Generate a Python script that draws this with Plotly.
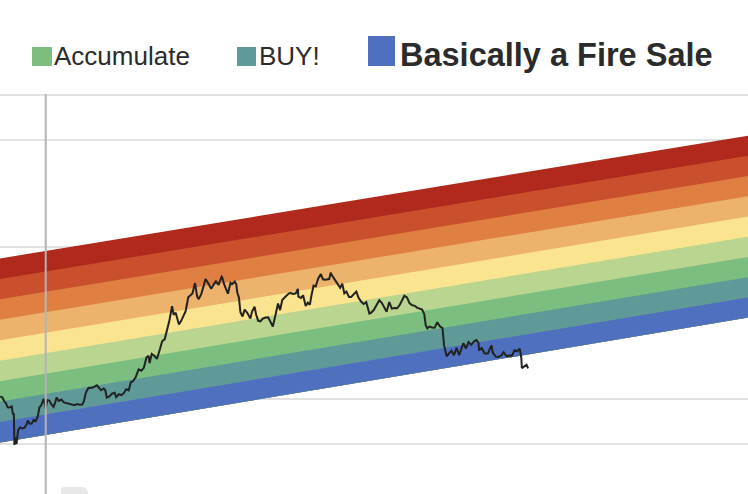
import plotly.graph_objects as go

# ---------------- data ----------------
band_names = ["Maximum Bubble Territory", "Sell. Seriously, SELL!", "FOMO intensifies",
              "Is this a bubble?", "HODL!", "Still cheap", "Accumulate", "BUY!",
              "Basically a Fire Sale"]
band_colors = ["#B0291C", "#C94F2D", "#E07F42", "#EDB36D", "#FBE48F",
               "#BAD58F", "#7CBD80", "#5F9A99", "#4E70BF"]
band_dates = ["2020-01-01", "2022-01-01", "2024-03-01"]
# band edge prices (top of band 1 ... bottom of band 9) at each band date
edges_2020 = [79000, 57900, 42520, 31170, 22890, 16790, 12310, 9040, 6630, 4866]
edges_2022 = [204000, 150100, 110200, 81030, 59500, 43760, 32180, 23640, 17390, 12760]
edges_2024 = [568400, 418900, 308500, 227300, 167100, 123100, 90670, 66750, 49180, 36220]

legend_names = ["Accumulate", "BUY!", "Basically a Fire Sale"]
legend_colors = ["#7CBD80", "#5F9A99", "#4E70BF"]

grid_values = [5000, 10000, 50000, 100000, 500000, 1000000]
halving_dates = ["2020-05-11"]

price_dates = [
    "2020-02-14", "2020-02-18", "2020-02-21", "2020-02-25", "2020-02-28", "2020-03-03", "2020-03-07",
    "2020-03-09", "2020-03-11", "2020-03-12", "2020-03-13", "2020-03-16", "2020-03-19", "2020-03-23",
    "2020-03-27", "2020-03-31", "2020-04-04", "2020-04-07", "2020-04-10", "2020-04-14", "2020-04-18",
    "2020-04-22", "2020-04-26", "2020-04-29", "2020-05-02", "2020-05-07", "2020-05-10", "2020-05-11",
    "2020-05-14", "2020-05-18", "2020-05-22", "2020-05-26", "2020-05-29", "2020-06-01", "2020-06-05",
    "2020-06-10", "2020-06-15", "2020-06-20", "2020-06-25", "2020-06-30", "2020-07-05", "2020-07-10",
    "2020-07-15", "2020-07-20", "2020-07-23", "2020-07-27", "2020-08-01", "2020-08-05", "2020-08-10",
    "2020-08-17", "2020-08-20", "2020-08-25", "2020-08-30", "2020-09-02", "2020-09-05", "2020-09-10",
    "2020-09-15", "2020-09-20", "2020-09-23", "2020-09-28", "2020-10-03", "2020-10-08", "2020-10-12",
    "2020-10-17", "2020-10-21", "2020-10-25", "2020-10-30", "2020-11-05", "2020-11-10", "2020-11-15",
    "2020-11-20", "2020-11-24", "2020-11-26", "2020-11-30", "2020-12-05", "2020-12-10", "2020-12-16",
    "2020-12-20", "2020-12-25", "2020-12-30", "2021-01-03", "2021-01-08", "2021-01-11", "2021-01-15",
    "2021-01-21", "2021-01-25", "2021-01-29", "2021-02-03", "2021-02-08", "2021-02-12", "2021-02-16",
    "2021-02-21", "2021-02-25", "2021-02-28", "2021-03-05", "2021-03-10", "2021-03-13", "2021-03-18",
    "2021-03-24", "2021-03-28", "2021-04-02", "2021-04-07", "2021-04-13", "2021-04-14", "2021-04-18",
    "2021-04-22", "2021-04-25", "2021-04-30", "2021-05-03", "2021-05-08", "2021-05-11", "2021-05-13",
    "2021-05-16", "2021-05-19", "2021-05-23", "2021-05-27", "2021-06-01", "2021-06-07", "2021-06-10",
    "2021-06-15", "2021-06-18", "2021-06-22", "2021-06-26", "2021-07-01", "2021-07-06", "2021-07-11",
    "2021-07-15", "2021-07-20", "2021-07-25", "2021-07-30", "2021-08-03", "2021-08-07", "2021-08-14",
    "2021-08-20", "2021-08-23", "2021-08-28", "2021-09-02", "2021-09-06", "2021-09-07", "2021-09-12",
    "2021-09-16", "2021-09-21", "2021-09-25", "2021-09-29", "2021-10-02", "2021-10-06", "2021-10-10",
    "2021-10-15", "2021-10-20", "2021-10-24", "2021-10-28", "2021-11-01", "2021-11-05", "2021-11-08",
    "2021-11-10", "2021-11-16", "2021-11-19", "2021-11-22", "2021-11-26", "2021-11-30", "2021-12-04",
    "2021-12-08", "2021-12-13", "2021-12-17", "2021-12-22", "2021-12-27", "2021-12-31", "2022-01-05",
    "2022-01-10", "2022-01-15", "2022-01-21", "2022-01-24", "2022-01-29", "2022-02-04", "2022-02-09",
    "2022-02-14", "2022-02-18", "2022-02-23", "2022-02-28", "2022-03-05", "2022-03-10", "2022-03-15",
    "2022-03-20", "2022-03-25", "2022-03-29", "2022-04-03", "2022-04-08", "2022-04-13", "2022-04-18",
    "2022-04-22", "2022-04-27", "2022-05-02", "2022-05-06", "2022-05-09", "2022-05-12", "2022-05-16",
    "2022-05-21", "2022-05-26", "2022-05-31", "2022-06-05", "2022-06-10", "2022-06-13", "2022-06-18",
    "2022-06-22", "2022-06-27", "2022-07-02", "2022-07-07", "2022-07-12", "2022-07-18", "2022-07-20",
    "2022-07-25", "2022-07-30", "2022-08-04", "2022-08-10", "2022-08-14", "2022-08-18", "2022-08-19",
    "2022-08-24", "2022-08-30", "2022-09-05", "2022-09-09", "2022-09-12", "2022-09-14", "2022-09-20",
    "2022-09-25", "2022-10-01", "2022-10-05", "2022-10-11", "2022-10-16", "2022-10-21", "2022-10-26",
    "2022-10-31", "2022-11-05", "2022-11-08", "2022-11-09", "2022-11-13", "2022-11-18", "2022-11-21",
]
price_values = [
    10360, 10180, 9690, 9310, 8780, 8760, 8900,
    7950, 7900, 4970, 5560, 5030, 6190, 6490,
    6370, 6430, 6730, 7200, 6860, 6840, 7260,
    7130, 7700, 8790, 8980, 9990, 8750, 8600,
    9790, 9720, 9170, 8840, 9430, 10200, 9660,
    9870, 9450, 9360, 9250, 9140, 9070, 9230,
    9130, 9160, 9600, 11000, 11800, 11750, 11880,
    12250, 11860, 11370, 11680, 11400, 10170, 10340,
    10790, 10940, 10240, 10700, 10560, 10920, 11540,
    11360, 12820, 13030, 13780, 15590, 15290, 15960,
    18680, 19150, 17150, 19700, 19150, 18250, 21300,
    23870, 24660, 28950, 32780, 40600, 35570, 36770,
    30820, 32250, 34300, 37620, 46400, 47900, 49200,
    57540, 47000, 45140, 48900, 55900, 61200, 57600,
    52800, 55800, 59100, 56000, 63500, 62970, 56200,
    51700, 49000, 57750, 56600, 58800, 56700, 49700,
    46400, 37000, 34700, 38500, 36700, 33600, 37300,
    40200, 35800, 32500, 32240, 33600, 34200, 34250,
    31800, 29800, 35400, 42200, 38200, 44600, 47100,
    49300, 49500, 48900, 49300, 52700, 46900, 46000,
    47800, 40700, 42800, 41500, 47700, 55400, 54700,
    61700, 65990, 60900, 60600, 61000, 61200, 67560,
    64950, 60400, 58100, 56300, 53600, 57000, 49300,
    50600, 46700, 46700, 48600, 50600, 46300, 43500,
    41900, 43100, 36300, 36700, 38100, 41500, 44400,
    42600, 40000, 37300, 43200, 39100, 39400, 39300,
    41300, 44300, 47500, 46400, 42300, 41100, 40800,
    39700, 39200, 38500, 36000, 30300, 29000, 29800,
    29400, 29300, 31800, 29900, 29100, 22500, 19000,
    19900, 20700, 19300, 21600, 19300, 22400, 23200,
    21400, 23600, 22600, 23900, 24300, 23300, 20800,
    21500, 19800, 19800, 21400, 22400, 20200, 18900,
    18800, 19300, 20200, 19000, 19250, 19200, 20800,
    20500, 21300, 18500, 15900, 16300, 16700, 15800,
]

# ---------------- figure ----------------
W, H = 748, 494
TOP = 91
PLOT_H = H - TOP
PX_PER_DECADE = 152.1
GRID_TOP_PX = 94.5          # where the top gridline sits

y_top = 6 + (GRID_TOP_PX - TOP) / PX_PER_DECADE
y_bottom = y_top - PLOT_H / PX_PER_DECADE

fig = go.Figure()

edges_by_date = [edges_2020, edges_2022, edges_2024]
bottom_edge = [e[-1] for e in edges_by_date]
for k, (name, color) in enumerate(zip(band_names, band_colors)):
    upper = [e[k] for e in edges_by_date]
    fig.add_trace(go.Scatter(
        x=band_dates + band_dates[::-1],
        y=upper + bottom_edge[::-1],
        fill="toself", fillcolor=color, mode="lines",
        line=dict(width=0, color=color), name=name,
        showlegend=False, hoverinfo="skip"))

fig.add_trace(go.Scatter(
    x=price_dates, y=price_values, mode="lines",
    line=dict(color="#222222", width=2), name="BTC price",
    showlegend=False))


def px_x(v):
    return v / W


def px_y(v):
    return (H - v) / PLOT_H


for d in halving_dates:
    fig.add_shape(type="line", xref="x", yref="paper", x0=d, x1=d, y0=0, y1=px_y(94),
                  line=dict(color="#b4b4b4", width=2), layer="above")

# legend (squares + text)
sq_boxes = [(32, 47, 52, 66), (237, 47, 256, 66), (368, 36, 395, 66)]
text_left = [54, 259, 400]
text_mid = [56, 56, 55]
text_size = [26, 26, 32.5]
for i, name in enumerate(legend_names):
    x0, y0, x1, y1 = sq_boxes[i]
    fig.add_shape(type="rect", xref="paper", yref="paper",
                  x0=px_x(x0), x1=px_x(x1), y0=px_y(y1), y1=px_y(y0),
                  fillcolor=legend_colors[i], line=dict(width=0), layer="above")
    label = f"<b>{name}</b>" if i == 2 else name
    fig.add_annotation(text=label, xref="paper", yref="paper",
                       x=px_x(text_left[i]), y=px_y(text_mid[i]),
                       xanchor="left", yanchor="middle", showarrow=False,
                       borderpad=0, borderwidth=0,
                       font=dict(family="Liberation Sans, Arial, sans-serif",
                                 size=text_size[i], color="#2b2b2b"))

# faint grey blob at the bottom edge (part of a watermark cut off by the crop)
fig.add_shape(type="path", xref="paper", yref="paper",
              path=(f"M {px_x(61)},{px_y(494)} L {px_x(61)},{px_y(489)} "
                    f"Q {px_x(61)},{px_y(487)} {px_x(64)},{px_y(487)} "
                    f"L {px_x(82)},{px_y(487)} Q {px_x(88)},{px_y(487)} {px_x(88)},{px_y(494)} Z"),
              fillcolor="#e8e8e8", line=dict(width=0), layer="above")

fig.update_layout(
    width=W, height=H,
    margin=dict(l=0, r=0, t=TOP, b=0, pad=0),
    paper_bgcolor="white", plot_bgcolor="white",
    showlegend=False,
    xaxis=dict(type="date", range=["2020-02-13 10:00", "2024-01-16 05:00"],
               showgrid=False, zeroline=False, showticklabels=False,
               ticks="", showline=False),
    yaxis=dict(type="log", range=[y_bottom, y_top],
               tickvals=grid_values, showticklabels=False, ticks="",
               showgrid=True, gridcolor="#e2e2e2", gridwidth=2,
               zeroline=False, showline=False),
)

fig.write_html("out.html", config={"displayModeBar": False},
               post_script="document.body.style.margin='0';document.body.style.overflow='hidden';")
